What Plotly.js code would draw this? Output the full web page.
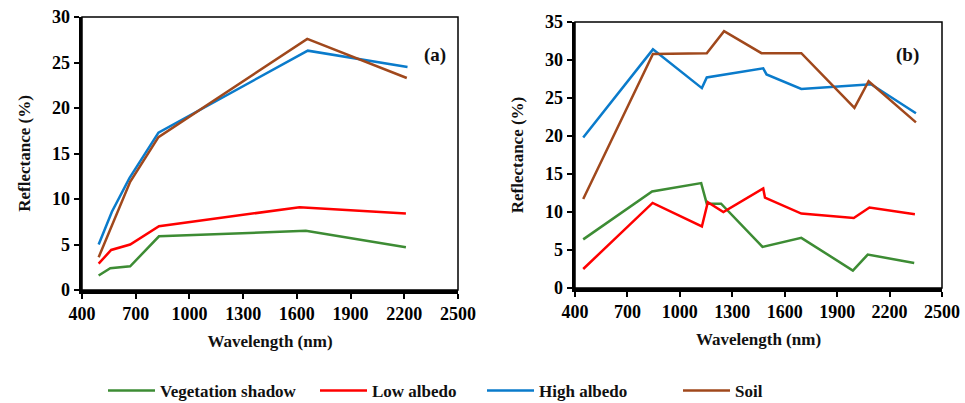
<!DOCTYPE html>
<html>
<head>
<meta charset="utf-8">
<script src="https://cdn.plot.ly/plotly-3.0.1.min.js"></script>
<style>html,body{margin:0;padding:0;background:#fff;}#chart{width:965px;height:403px;}</style>
</head>
<body>
<div id="chart"></div>
<script>
// ---- data ----
const seriesNames = ["Vegetation shadow", "Low albedo", "High albedo", "Soil"];
const seriesColors = ["#3D8C34", "#FF0000", "#0A7BCB", "#A0481C"];

// Panel (a)
const aVegX = [493, 558, 669, 830, 1650, 2209];
const aVegY = [1.6, 2.4, 2.6, 5.9, 6.5, 4.7];
const aLowX = [493, 563, 669, 830, 1615, 2209];
const aLowY = [2.9, 4.4, 5.0, 7.0, 9.1, 8.4];
const aHighX = [493, 567, 665, 827, 1661, 2218];
const aHighY = [5.0, 8.6, 12.3, 17.3, 26.3, 24.5];
const aSoilX = [493, 576, 669, 827, 1658, 2214];
const aSoilY = [3.6, 7.6, 11.9, 16.8, 27.6, 23.3];

// Panel (b)
const bVegX = [447, 841, 1122, 1154, 1236, 1473, 1695, 1990, 2075, 2341];
const bVegY = [6.4, 12.7, 13.8, 11.1, 11.1, 5.4, 6.6, 2.3, 4.4, 3.3];
const bLowX = [447, 844, 1126, 1160, 1249, 1477, 1487, 1695, 1995, 2085, 2345];
const bLowY = [2.5, 11.2, 8.1, 11.3, 10.0, 13.1, 11.9, 9.8, 9.2, 10.6, 9.7];
const bHighX = [447, 846, 1126, 1154, 1477, 1496, 1695, 2094, 2351];
const bHighY = [19.8, 31.4, 26.3, 27.7, 28.9, 28.1, 26.2, 26.8, 23.0];
const bSoilX = [447, 846, 1154, 1253, 1467, 1695, 1999, 2080, 2351];
const bSoilY = [11.7, 30.8, 30.9, 33.8, 30.9, 30.9, 23.7, 27.2, 21.8];

const xTicks = [400, 700, 1000, 1300, 1600, 1900, 2200, 2500];
const xTitle = "Wavelength (nm)";
const yTitle = "Reflectance (%)";
const panelLabels = ["(a)", "(b)"];

// ---- build ----
const W = 965, H = 403;
const px = v => v / W;
const py = v => 1 - v / H;
const FONT = "Liberation Serif";

const aSets = [[aVegX, aVegY], [aLowX, aLowY], [aHighX, aHighY], [aSoilX, aSoilY]];
const bSets = [[bVegX, bVegY], [bLowX, bLowY], [bHighX, bHighY], [bSoilX, bSoilY]];
const legendIds = ["legend", "legend2", "legend3", "legend4"];

const traces = [];
aSets.forEach((s, i) => traces.push({
  x: s[0], y: s[1], type: "scatter", mode: "lines", name: seriesNames[i],
  line: {color: seriesColors[i], width: 2.5},
  xaxis: "x", yaxis: "y", legend: legendIds[i], showlegend: true
}));
bSets.forEach((s, i) => traces.push({
  x: s[0], y: s[1], type: "scatter", mode: "lines", name: seriesNames[i],
  line: {color: seriesColors[i], width: 2.5},
  xaxis: "x2", yaxis: "y2", showlegend: false
}));

function xAxis(dom, anchor) {
  return {
    domain: dom, anchor: anchor, range: [400, 2500], tickvals: xTicks,
    showline: true, linewidth: 3.5, linecolor: "#000", showgrid: false, zeroline: false,
    ticks: "outside", ticklen: 5, tickwidth: 2, tickcolor: "#000",
    tickfont: {family: FONT, size: 18, color: "#000", weight: "bold"},
    title: {text: xTitle, font: {family: FONT, size: 17, color: "#111", weight: "bold"}, standoff: 13}
  };
}
function yAxis(dom, anchor, max) {
  return {
    domain: dom, anchor: anchor, range: [0, max], dtick: 5, tick0: 0,
    showline: true, linewidth: 3.5, linecolor: "#000", showgrid: false, zeroline: false,
    ticks: "outside", ticklen: 5, tickwidth: 2, tickcolor: "#000",
    tickfont: {family: FONT, size: 18, color: "#000", weight: "bold"},
    title: {text: yTitle, font: {family: FONT, size: 17, color: "#111", weight: "bold"}, standoff: 18}
  };
}

const legendStarts = [103, 315, 482, 678];
const layout = {
  width: W, height: H,
  margin: {l: 0, r: 0, t: 0, b: 0, autoexpand: false},
  paper_bgcolor: "#fff", plot_bgcolor: "#fff",
  font: {family: FONT, color: "#111"},
  xaxis: xAxis([px(82), px(458)], "y"),
  yaxis: yAxis([py(290), py(17)], "x", 30),
  xaxis2: xAxis([px(575), px(942)], "y2"),
  yaxis2: yAxis([py(288), py(22)], "x2", 35),
  shapes: [
    {type: "rect", xref: "x domain", yref: "y domain", x0: 0, x1: 1, y0: 0, y1: 1, line: {color: "#000", width: 1.5}},
    {type: "rect", xref: "x2 domain", yref: "y2 domain", x0: 0, x1: 1, y0: 0, y1: 1, line: {color: "#000", width: 1.5}}
  ],
  annotations: [
    {text: panelLabels[0], xref: "paper", yref: "paper", x: px(435), y: py(42), showarrow: false,
     font: {family: FONT, size: 19, color: "#111", weight: "bold"}},
    {text: panelLabels[1], xref: "paper", yref: "paper", x: px(921), y: py(42), showarrow: false,
     font: {family: FONT, size: 19, color: "#111", weight: "bold"}}
  ]
};
legendIds.forEach((id, i) => {
  layout[id] = {
    orientation: "h", x: px(legendStarts[i]), xanchor: "left", y: py(391), yanchor: "middle",
    bgcolor: "rgba(0,0,0,0)", borderwidth: 0, itemwidth: 47,
    font: {family: FONT, size: 17, color: "#111", weight: "bold"}
  };
});

Plotly.newPlot("chart", traces, layout, {displayModeBar: false, staticPlot: true});
</script>
</body>
</html>
